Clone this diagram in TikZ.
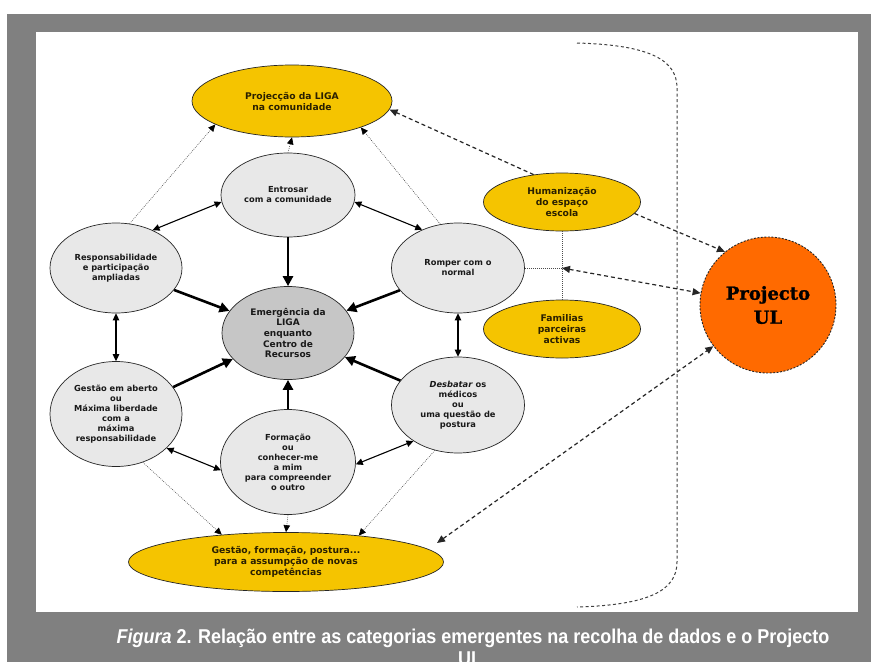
\documentclass[tikz,border=0pt]{standalone}
\usepackage{fontspec}
\setmainfont{DejaVu Sans}
\newfontfamily\capfont[FakeStretch=0.9]{Liberation Sans}
\newfontfamily\ulfont[FakeBold=1.2]{DejaVu Serif}
\usetikzlibrary{shapes.geometric,arrows.meta,calc}
\definecolor{framegray}{HTML}{808080}
\definecolor{ylw}{HTML}{F5C400}
\definecolor{orng}{HTML}{FF6A00}
\definecolor{lgray}{HTML}{E8E8E8}
\definecolor{mgray}{HTML}{C6C6C6}
\definecolor{ytext}{HTML}{2A2000}
\begin{document}
\begin{tikzpicture}[x=1pt,y=-1pt,
  every node/.style={align=center,inner sep=0pt},
  gnode/.style={ellipse,draw=black!85,line width=0.7pt,fill=lgray,text=black!90,
    font=\bfseries\fontsize{8.3}{10}\selectfont},
  ynode/.style={ellipse,draw=black!85,line width=0.7pt,fill=ylw,text=ytext,
    font=\bfseries\fontsize{9.2}{11}\selectfont},
  thk/.style={line width=2.6pt,-{Triangle[length=10pt,width=10pt]}},
  dbl/.style={line width=1.1pt,{Triangle[length=7pt,width=6.5pt]}-{Triangle[length=7pt,width=6.5pt]}},
  dotl/.style={line width=0.6pt,black!70,dash pattern=on 0.8pt off 1.2pt},
  dotarr/.style={dotl,-{Triangle[length=7pt,width=6.5pt,color=black,fill=black]}},
  dsh/.style={line width=1.2pt,black!85,dash pattern=on 4pt off 3pt,-{Triangle[length=8pt,width=7pt]}},
  dshb/.style={line width=1.2pt,black!85,dash pattern=on 4pt off 3pt,{Triangle[length=8pt,width=7pt]}-{Triangle[length=8pt,width=7pt]}},
]
\useasboundingbox (0,0) rectangle (871,662);
\fill[white] (0,0) rectangle (871,662);
\fill[framegray] (7,14) rectangle (871,662);
\fill[white] (36,32) rectangle (858,612);

% bracket
\draw[black!75,line width=1pt,dash pattern=on 3pt off 2.5pt]
  (577,43) .. controls (650,45) and (677,60) .. (677,88) -- (677,562)
  .. controls (677,590) and (650,605) .. (577,607);

% nodes
\node[ynode,minimum width=200,minimum height=72] (P) at (292,101) {Projecção da LIGA\\na comunidade};
\node[gnode,minimum width=134,minimum height=84] (E) at (288,195) {Entrosar\\com a comunidade};
\node[gnode,minimum width=132,minimum height=90] (R) at (116,268) {Responsabilidade\\e participação\\ampliadas};
\node[gnode,minimum width=133,minimum height=90] (Ro) at (458,268) {Romper com o\\normal};
\node[gnode,fill=mgray,minimum width=132,minimum height=93,font=\bfseries\fontsize{9}{10.7}\selectfont] (C) at (288,333)
  {Emergência da\\LIGA\\enquanto\\Centro de\\Recursos};
\node[gnode,minimum width=132,minimum height=105] (G) at (116,414)
  {Gestão em aberto\\ou\\Máxima liberdade\\com a\\máxima\\responsabilidade};
\node[gnode,minimum width=133,minimum height=96] (D) at (458,405)
  {\textit{Desbatar} os\\médicos\\ou\\uma questão de\\postura};
\node[gnode,minimum width=135,minimum height=105] (F) at (288,462)
  {Formação\\ou\\conhecer-me\\a mim\\para compreender\\o outro};
\node[ynode,minimum width=315,minimum height=59] (B) at (286,562)
  {Gestão, formação, postura...\\para a assumpção de novas\\competências};
\node[ynode,minimum width=157,minimum height=58] (H) at (562,202) {Humanização\\do espaço\\escola};
\node[ynode,minimum width=157,minimum height=58] (Fa) at (562,329) {Familias\\parceiras\\activas};
\node[circle,draw=black!85,line width=0.9pt,dash pattern=on 2pt off 1.5pt,fill=orng,minimum size=136,
  font=\ulfont\bfseries\fontsize{18}{24}\selectfont,text=black] (U) at (768,305) {Projecto\\UL};
\coordinate (J) at (562,268);
\coordinate (Bt) at ($(B.center)+(151,-19)$);

% thick arrows to centre
\draw[thk] (E.south) -- (C.north);
\draw[thk] (R) -- (C);
\draw[thk] (Ro) -- (C);
\draw[thk] (G) -- (C);
\draw[thk] (D) -- (C);
\draw[thk] (F.north) -- (C.south);

% double arrows
\draw[dbl] (R.46) -- (E.186);
\draw[dbl] (E.-6) -- (Ro.133);
\draw[dbl] (R.south) -- (G.north);
\draw[dbl] (Ro.south) -- (D.north);
\draw[dbl] (G.-34) -- (F.187);
\draw[dbl] (F.-2) -- (D.219.5);

% dotted arrows
\draw[dotarr] (R.73) -- (P.197.6);
\draw[dotarr] (E.north) -- (P.south);
\draw[dotarr] (Ro.112) -- (P.-21.7);
\draw[dotarr] (G.-61) -- (B.157);
\draw[dotarr] (F.south) -- (B.north);
\draw[dotarr] (D.243) -- (B.20);

% dotted links
\draw[dotl] (J |- H.south) -- (J |- Fa.north);
\draw[dotl] (Ro.east) -- (J);

% dashed arrows
\draw[dsh] (H.136) -- (P.-5.6);
\draw[dsh] (H.-9) -- (U.129);
\draw[dshb] (J) -- (U.170);
\draw[dshb] (Bt) -- (U.217);

% caption
\node[anchor=base,text=white,font=\capfont\bfseries\fontsize{20}{22}\selectfont] (cap1) at (473,643)
  {\textit{Figura} 2. Relação entre as categorias emergentes na recolha de dados e o Projecto};
\node[anchor=base,text=white,font=\capfont\bfseries\fontsize{20}{22}\selectfont] (cap2) at (470,665) {UL};
\end{tikzpicture}
\end{document}
